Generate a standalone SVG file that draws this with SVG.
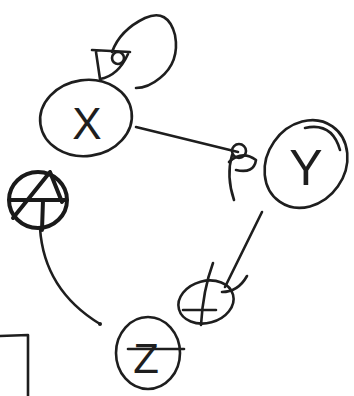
<svg xmlns="http://www.w3.org/2000/svg" width="354" height="396" viewBox="0 0 354 396">
<style>
.s{fill:none;stroke:#1e1e1e;stroke-width:2.6;stroke-linecap:round;stroke-linejoin:round}
.b{fill:none;stroke:#1a1a1a;stroke-width:4;stroke-linecap:round;stroke-linejoin:round}
.t{font-family:"Liberation Sans",Arial,sans-serif;fill:#1e1e1e;text-anchor:middle}
</style>
<rect width="354" height="396" fill="#ffffff"/>
<g id="connectors">
  <!-- self-loop on X -->
  <path class="s" d="M 112 52 Q 120 30 145 18 Q 168 8 175 35 Q 180 62 160 78 Q 148 88 136 88"/>
  <path class="s" d="M 92 50 L 130 52 M 96 52 L 100 79 Q 118 76 128 54"/>
  <circle class="s" cx="118" cy="58" r="6"/>
  <!-- X to Y -->
  <path class="s" d="M 136 127 L 238 152"/>
  <circle class="s" cx="239" cy="151" r="7"/>
  <path class="s" d="M 229 162 Q 242 150 256 160 Q 254 174 236 170"/>
  <path class="s" d="M 232 155 Q 226 176 234 200"/>
  <!-- Y to small node -->
  <path class="s" d="M 262 212 L 225 287"/>
  <path class="s" d="M 247 276 Q 238 292 222 292"/>
  <!-- left symbol to Z -->
  <path class="s" d="M 40 228 Q 44 290 100 324"/>
  <circle cx="100" cy="324" r="2" fill="#1e1e1e"/>
</g>
<g id="node-x">
  <ellipse class="s" cx="86" cy="118" rx="46" ry="38" transform="rotate(-8 86 118)"/>
  <text class="t" x="87" y="139" font-size="44">X</text>
</g>
<g id="node-y">
  <ellipse class="s" cx="306" cy="164" rx="46" ry="39" transform="rotate(-55 306 164)"/>
  <path class="s" d="M 305 128 Q 332 122 340 150"/>
  <text class="t" x="306" y="185" font-size="50">Y</text>
</g>
<g id="node-z">
  <ellipse class="s" cx="148" cy="353" rx="32" ry="36"/>
  <text class="t" x="146" y="373" font-size="42">Z</text>
  <path class="s" d="M 128 349 L 184 349"/>
</g>
<g id="node-a">
  <ellipse class="b" cx="38" cy="200" rx="29" ry="28"/>
  <path class="b" d="M 50 172 L 13 218 M 50 172 L 62 202 M 11 200 L 66 200 M 43 200 L 42 230"/>
</g>
<g id="node-b">
  <ellipse class="s" cx="206" cy="302" rx="28" ry="21" transform="rotate(-15 206 302)"/>
  <path class="s" d="M 183 310 L 216 310 M 213 263 Q 203 290 201 325"/>
</g>
<g id="bracket">
  <path class="s" d="M 0 336 L 28 335 L 28 396"/>
</g>
</svg>
